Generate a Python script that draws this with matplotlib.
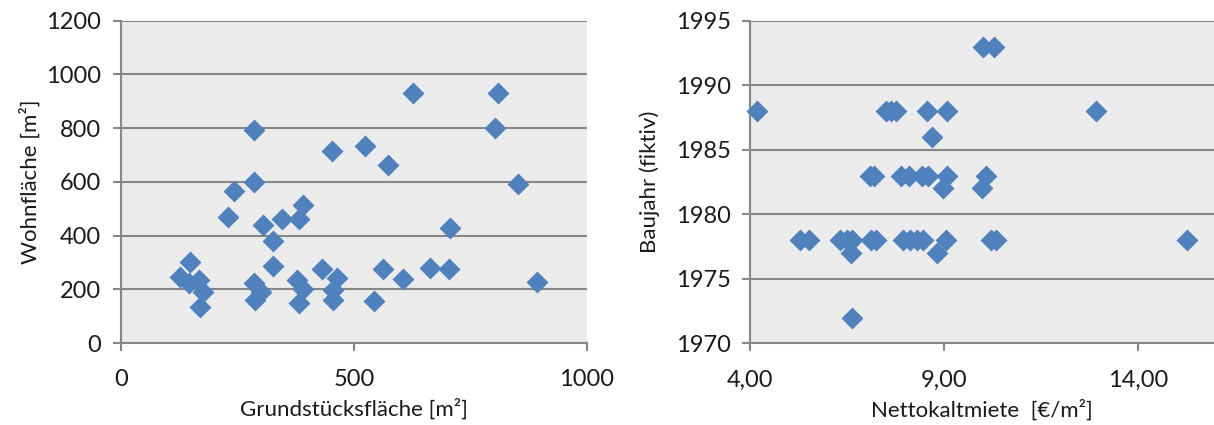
import matplotlib
matplotlib.use("Agg")
import matplotlib.pyplot as plt
from matplotlib.ticker import FixedLocator, FixedFormatter

# ---- Left chart data: Grundstücksfläche vs Wohnfläche ----
grund = [286, 453, 524, 286, 244, 230, 306, 345, 382, 391, 326, 326,
         149, 127, 146, 167, 177, 170, 285, 300, 288, 378, 392, 383,
         432, 464, 455, 455, 627, 810, 802, 574, 852, 706, 562, 606,
         664, 704, 893, 544]
wohn = [793, 716, 733, 599, 564, 470, 440, 460, 460, 512, 381, 287,
        302, 247, 222, 234, 191, 135, 224, 190, 160, 234, 202, 150,
        274, 242, 197, 160, 931, 931, 799, 661, 590, 428, 276, 237,
        279, 276, 227, 155]

# ---- Right chart data: Nettokaltmiete vs Baujahr ----
miete = [4.19, 7.50, 7.63, 7.76, 8.57, 9.08, 8.70, 10.00, 10.30, 12.91,
         7.10, 7.20, 7.90, 8.11, 8.44, 8.60, 9.07, 10.08, 8.97, 9.99,
         5.29, 5.52, 6.31, 6.49, 6.62, 7.12, 7.25, 7.95, 8.13, 8.31,
         8.46, 9.05, 10.22, 10.33, 15.27, 6.61, 8.83, 6.63]
baujahr = [1988, 1988, 1988, 1988, 1988, 1988, 1986, 1993, 1993, 1988,
           1983, 1983, 1983, 1983, 1983, 1983, 1983, 1983, 1982, 1982,
           1978, 1978, 1978, 1978, 1978, 1978, 1978, 1978, 1978, 1978,
           1978, 1978, 1978, 1978, 1978, 1977, 1977, 1972]

left_xticks = [0, 500, 1000]
left_xticklabels = ["0", "500", "1000"]
left_yticks = [0, 200, 400, 600, 800, 1000, 1200]
right_xticks = [4, 9, 14]
right_xticklabels = ["4,00", "9,00", "14,00"]
right_yticks = [1970, 1975, 1980, 1985, 1990, 1995]

plt.rcParams['font.family'] = ['Lato', 'DejaVu Sans']

BG = '#EBEBEB'
GRID = '#878787'
MARK = '#4F81BD'
TXT = '#1a1a1a'

fig = plt.figure(figsize=(12.14, 4.25), dpi=100)
axL = fig.add_axes([0.0994, 0.1929, 0.3841, 0.7588])
axR = fig.add_axes([0.6178, 0.1922, 0.3822, 0.7591])


def style(ax):
    ax.set_facecolor(BG)
    for s in ['top', 'right']:
        ax.spines[s].set_visible(False)
    for s in ['left', 'bottom']:
        ax.spines[s].set_color(GRID)
        ax.spines[s].set_linewidth(1.5)
    ax.grid(axis='y', color=GRID, linewidth=1.5)
    ax.set_axisbelow(True)
    ax.tick_params(axis='both', colors=GRID, labelcolor=TXT, labelsize=17,
                   length=6, width=1.5, direction='out')
    ax.tick_params(axis='x', pad=13)
    ax.tick_params(axis='y', pad=8)


style(axL)
axL.scatter(grund, wohn, marker='D', s=125, color=MARK, linewidths=0,
            zorder=3, clip_on=False)
axL.set_xlim(0, 1000)
axL.set_ylim(0, 1200)
axL.xaxis.set_major_locator(FixedLocator(left_xticks))
axL.xaxis.set_major_formatter(FixedFormatter(left_xticklabels))
axL.set_yticks(left_yticks)
axL.set_xlabel("Grundstücksfläche [m²]", fontsize=16, color=TXT, labelpad=6)
axL.set_ylabel("Wohnfläche [m²]", fontsize=16, color=TXT, labelpad=4)

style(axR)
axR.scatter(miete, baujahr, marker='D', s=125, color=MARK, linewidths=0,
            zorder=3, clip_on=False)
axR.set_xlim(4, 15.96)
axR.set_ylim(1970, 1995)
axR.xaxis.set_major_locator(FixedLocator(right_xticks))
axR.xaxis.set_major_formatter(FixedFormatter(right_xticklabels))
axR.set_yticks(right_yticks)
axR.set_xlabel("Nettokaltmiete  [€/m²]", fontsize=16, color=TXT, labelpad=6)
axR.set_ylabel("Baujahr (fiktiv)", fontsize=16, color=TXT, labelpad=11)

fig.savefig("out.png", dpi=100, facecolor='white')
